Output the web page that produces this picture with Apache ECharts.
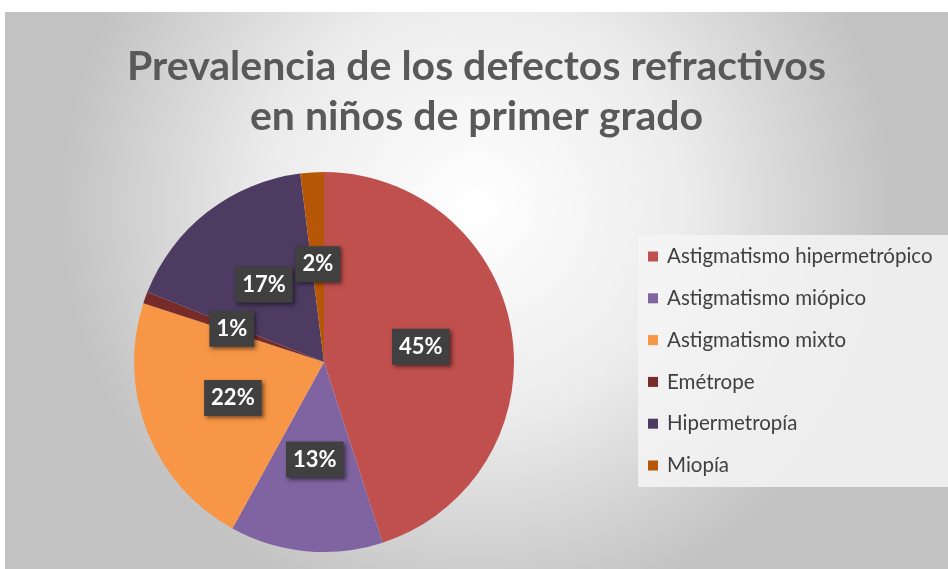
<!DOCTYPE html>
<html>
<head>
<meta charset="utf-8">
<script src="https://cdn.jsdelivr.net/npm/echarts@6/dist/echarts.min.js"></script>
<style>
  html, body { margin: 0; padding: 0; background: #ffffff; }
  #chart { position: absolute; left: 5px; top: 12px; width: 943px; height: 557px; }
</style>
</head>
<body>
<div id="chart"></div>
<script>
// categorías y porcentajes
const categories = [
  'Astigmatismo hipermetrópico',
  'Astigmatismo miópico',
  'Astigmatismo mixto',
  'Emétrope',
  'Hipermetropía',
  'Miopía'
]
const values = [45, 13, 22, 1, 17, 2]
const colors = ['#C0504D', '#8064A2', '#F79646', '#772C2A', '#4D3B62', '#B65708']

const chart = echarts.init(document.getElementById('chart'))

const option = {
  backgroundColor: new echarts.graphic.RadialGradient(0.5, 0.35, 0.75, [
    { offset: 0, color: '#ffffff' },
    { offset: 0.5, color: '#ececec' },
    { offset: 1, color: '#c2c2c2' }
  ]),
  color: colors,
  // caja blanca detrás de la leyenda
  graphic: [
    {
      type: 'rect',
      left: 633,
      top: 223,
      shape: { width: 310, height: 252 },
      style: { fill: 'rgba(245,245,245,0.85)' },
      z: 0
    }
  ],
  title: {
    text: 'Prevalencia de los defectos refractivos\nen niños de primer grado',
    left: 'center',
    top: 25,
    textStyle: {
      fontFamily: 'Lato',
      fontSize: 41,
      fontWeight: 'bold',
      color: '#595959',
      lineHeight: 50
    }
  },
  legend: {
    orient: 'vertical',
    left: 643,
    top: 234,
    padding: 0,
    icon: 'rect',
    itemWidth: 10,
    itemHeight: 10,
    itemGap: 20.8,
    textStyle: {
      fontFamily: 'Lato',
      fontSize: 20.5,
      color: '#404040',
      padding: [0, 0, 0, 4]
    },
    data: categories
  },
  series: [
    {
      type: 'pie',
      center: [319, 350],
      radius: [0, 190],
      startAngle: 90,
      clockwise: true,
      label: {
        show: true,
        position: 'inside',
        formatter: '{d}%',
        fontFamily: 'Lato',
        fontSize: 22,
        fontWeight: 'bold',
        color: '#ffffff',
        backgroundColor: '#404040',
        padding: [7, 7, 7, 7],
        shadowColor: 'rgba(0,0,0,0.5)',
        shadowBlur: 4,
        shadowOffsetX: 2,
        shadowOffsetY: 2
      },
      labelLine: { show: false },
      itemStyle: { borderWidth: 0 },
      emphasis: { disabled: true },
      data: categories.map((name, i) => ({ name: name, value: values[i] }))
    }
  ]
}

chart.setOption(option)
</script>
</body>
</html>
